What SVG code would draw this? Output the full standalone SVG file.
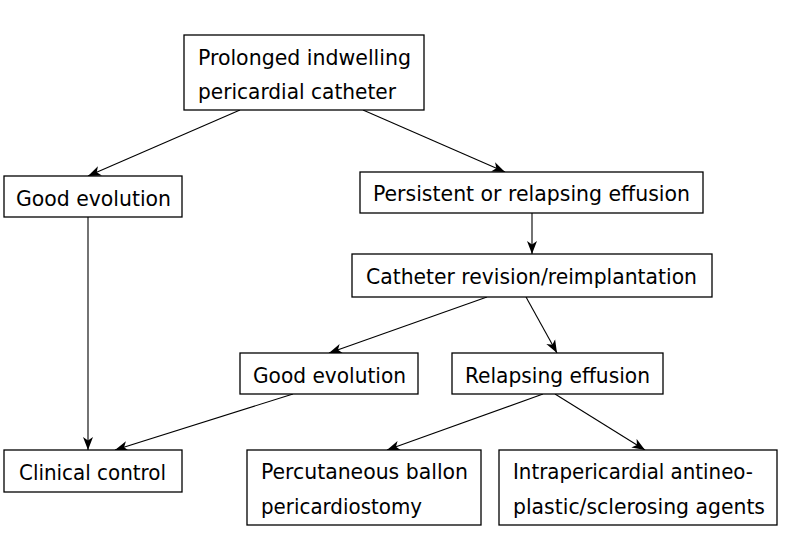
<svg xmlns="http://www.w3.org/2000/svg" width="800" height="544" viewBox="0 0 800 544">
<style>
rect.b{fill:#fff;stroke:#000;stroke-width:1.3}
text{font-family:"DejaVu Sans Condensed","DejaVu Sans",sans-serif;font-stretch:condensed;font-size:22px;fill:#000}
.c line{stroke:#000;stroke-width:1.1;marker-end:url(#ah)}
</style>
<defs>
<marker id="ah" markerUnits="userSpaceOnUse" markerWidth="16" markerHeight="12" refX="13" refY="5.5" orient="auto">
<path d="M0,0.5 L13,5.5 L0,10.5 L3.5,5.5 z" fill="#000"/>
</marker>
</defs>
<rect width="800" height="544" fill="#fff"/>
<g class="c" id="connectors">
<line x1="240" y1="110" x2="88" y2="176"/>
<line x1="363" y1="110" x2="505" y2="172"/>
<line x1="532" y1="213" x2="532" y2="254"/>
<line x1="487" y1="297" x2="329" y2="353"/>
<line x1="526" y1="297" x2="557" y2="353"/>
<line x1="88" y1="217" x2="88" y2="450"/>
<line x1="293" y1="394" x2="115" y2="450"/>
<line x1="543" y1="394" x2="387" y2="450"/>
<line x1="555" y1="394" x2="645" y2="450"/>
</g>
<g id="n1"><rect class="b" x="184" y="35" width="240" height="75"/>
<text x="198" y="65" textLength="213" lengthAdjust="spacingAndGlyphs">Prolonged indwelling</text>
<text x="198" y="99" textLength="198" lengthAdjust="spacingAndGlyphs">pericardial catheter</text></g>
<g id="n2"><rect class="b" x="4" y="176" width="178" height="41"/>
<text x="16" y="206" textLength="155" lengthAdjust="spacingAndGlyphs">Good evolution</text></g>
<g id="n3"><rect class="b" x="360" y="172" width="343" height="41"/>
<text x="373" y="201" textLength="317" lengthAdjust="spacingAndGlyphs">Persistent or relapsing effusion</text></g>
<g id="n4"><rect class="b" x="352" y="254" width="360" height="43"/>
<text x="366" y="284" textLength="331" lengthAdjust="spacingAndGlyphs">Catheter revision/reimplantation</text></g>
<g id="n5"><rect class="b" x="240" y="353" width="178" height="41"/>
<text x="253" y="383" textLength="153" lengthAdjust="spacingAndGlyphs">Good evolution</text></g>
<g id="n6"><rect class="b" x="452" y="353" width="211" height="41"/>
<text x="465" y="383" textLength="185" lengthAdjust="spacingAndGlyphs">Relapsing effusion</text></g>
<g id="n7"><rect class="b" x="4" y="450" width="178" height="42"/>
<text x="19" y="480" textLength="147" lengthAdjust="spacingAndGlyphs">Clinical control</text></g>
<g id="n8"><rect class="b" x="247" y="450" width="234" height="75"/>
<text x="261" y="479" textLength="207" lengthAdjust="spacingAndGlyphs">Percutaneous ballon</text>
<text x="261" y="514" textLength="161" lengthAdjust="spacingAndGlyphs">pericardiostomy</text></g>
<g id="n9"><rect class="b" x="499" y="450" width="278" height="75"/>
<text x="513" y="479" textLength="240" lengthAdjust="spacingAndGlyphs">Intrapericardial antineo-</text>
<text x="513" y="514" textLength="252" lengthAdjust="spacingAndGlyphs">plastic/sclerosing agents</text></g>
</svg>
